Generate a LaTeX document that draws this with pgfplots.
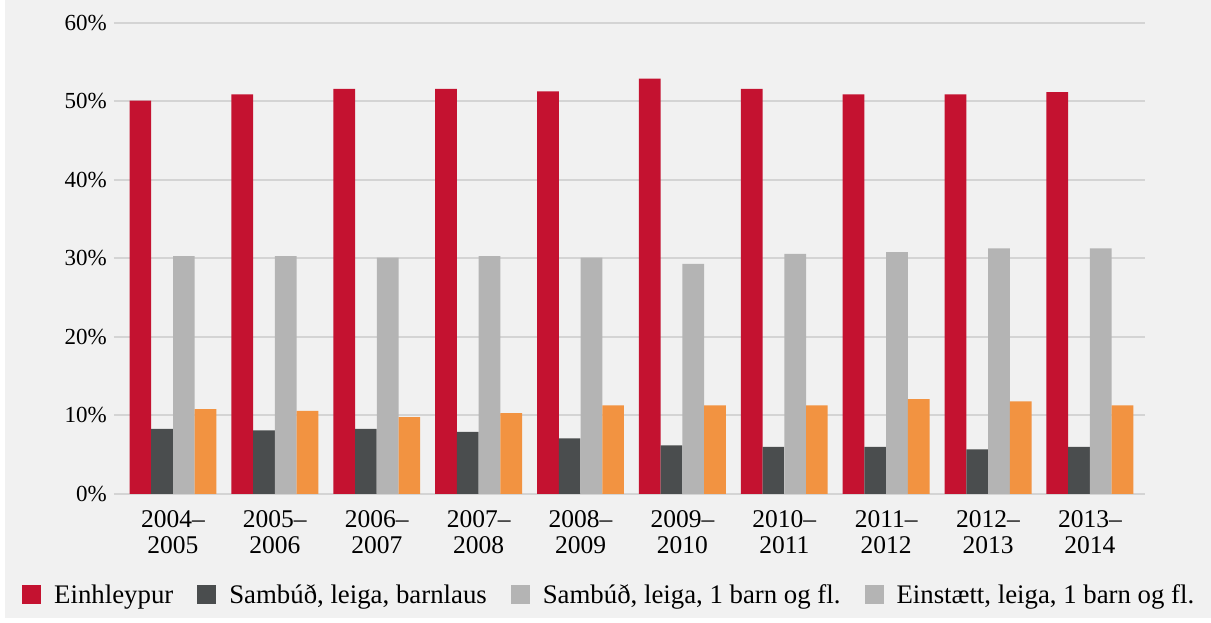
\documentclass[border=0pt]{standalone}
\usepackage{pgfplots}
\pgfplotsset{compat=1.18}
\usepackage{fontspec}
\setmainfont{Liberation Serif}
\definecolor{cred}{HTML}{C41230}
\definecolor{cdark}{HTML}{4A4D4E}
\definecolor{clight}{HTML}{B4B4B4}
\definecolor{corange}{HTML}{F29341}
\definecolor{cbg}{HTML}{F1F1F1}
\definecolor{cgrid}{HTML}{D4D4D4}
\pgfplotsset{
  mybar/.style={ybar, bar width=0.213, draw=none,
    legend image code/.code={\fill[##1] (0pt,-9.5pt) rectangle (19pt,9.5pt);}},
}
\begin{document}
\begin{tikzpicture}
\fill[white] (-114pt,-129pt) rectangle (1097pt,494pt);
\fill[cbg] (-109pt,-124pt) rectangle (1097pt,494pt);
\begin{axis}[
  at={(0pt,0pt)}, anchor=south west,
  width=1031pt, height=471pt, scale only axis,
  xmin=-0.579, xmax=9.54, ymin=0, ymax=60,
  enlargelimits=false,
  axis line style={draw=none},
  major tick length=0pt,
  ymajorgrids, grid style={cgrid, line width=2pt},
  ytick={0,10,20,30,40,50,60},
  yticklabels={0\%,10\%,20\%,30\%,40\%,50\%,60\%},
  yticklabel style={font=\fontsize{23}{25}\selectfont, inner sep=0pt, xshift=-7pt},
  xtick={0,1,2,3,4,5,6,7,8,9},
  xticklabels={{2004--\\2005},{2005--\\2006},{2006--\\2007},{2007--\\2008},{2008--\\2009},{2009--\\2010},{2010--\\2011},{2011--\\2012},{2012--\\2013},{2013--\\2014}},
  xticklabel style={align=center, font=\fontsize{25.5}{26}\selectfont, inner sep=0pt, yshift=-16pt},
  legend style={at={(axis description cs:-0.0892,-0.2144)}, anchor=west,
    draw=none, fill=none, inner xsep=0pt, inner ysep=0pt,
    legend columns=4, font=\fontsize{26.8}{28}\selectfont,
    /tikz/every odd column/.append style={column sep=11pt},
    /tikz/every even column/.append style={column sep=22pt}},
  legend cell align=left,
]
\addplot[mybar, bar shift=-0.32, fill=cred] coordinates {
 (0,50.1) (1,50.9) (2,51.6) (3,51.6) (4,51.3) (5,52.9) (6,51.6) (7,50.9) (8,50.9) (9,51.2)};
\addlegendentry{Einhleypur}
\addplot[mybar, bar shift=-0.107, fill=cdark] coordinates {
 (0,8.3) (1,8.1) (2,8.3) (3,7.9) (4,7.1) (5,6.2) (6,6.0) (7,6.0) (8,5.7) (9,6.0)};
\addlegendentry{Sambúð, leiga, barnlaus}
\addplot[mybar, bar shift=0.107, fill=clight] coordinates {
 (0,30.3) (1,30.3) (2,30.1) (3,30.3) (4,30.1) (5,29.3) (6,30.6) (7,30.8) (8,31.3) (9,31.3)};
\addlegendentry{Sambúð, leiga, 1 barn og fl.}
\addplot[mybar, bar shift=0.32, fill=corange, forget plot] coordinates {
 (0,10.8) (1,10.6) (2,9.8) (3,10.3) (4,11.3) (5,11.3) (6,11.3) (7,12.1) (8,11.8) (9,11.3)};
\addlegendimage{mybar, fill=clight}
\addlegendentry{Einstætt, leiga, 1 barn og fl.}
\end{axis}
\pgfresetboundingbox
\path (-114pt,-129pt) rectangle (1097pt,494pt);
\end{tikzpicture}
\end{document}
